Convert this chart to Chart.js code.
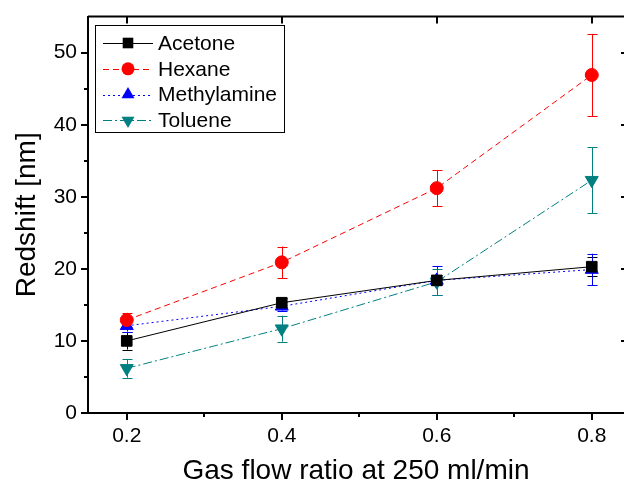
<!DOCTYPE html>
<html>
<head>
<meta charset="utf-8">
<script src="https://cdn.jsdelivr.net/npm/chart.js@4.4.0/dist/chart.umd.min.js"></script>
<style>
  html, body { margin: 0; padding: 0; background: #fff; }
  #wrap { width: 624px; height: 488px; }
</style>
</head>
<body>
<div id="wrap"><canvas id="c"></canvas></div>
<script>
// data
const flowRatio = [0.2, 0.4, 0.6, 0.8];
const xTicks = [0.2, 0.4, 0.6, 0.8];
const xMinorTicks = [0.3, 0.5, 0.7];
const yTicks = [0, 10, 20, 30, 40, 50];
const yMinorTicks = [5, 15, 25, 35, 45];

const acetone = [10.0, 15.3, 18.4, 20.3];
const acetoneErr = [1.2, 0.6, 0.7, 1.3];
const hexane = [12.9, 20.9, 31.2, 46.9];
const hexaneErr = [1.0, 2.2, 2.5, 5.7];
const methylamine = [12.1, 14.8, 18.4, 19.9];
const methylamineErr = [0.8, 0.6, 2.0, 2.2];
const toluene = [6.2, 11.7, 18.2, 32.3];
const tolueneErr = [1.3, 1.8, 1.8, 4.6];

const FONT = 'Liberation Sans, Arial, sans-serif';

function series(label, values, errs, color, dash, style, radius, rotation) {
  return {
    label: label,
    data: flowRatio.map((x, i) => ({ x: x, y: values[i] })),
    errors: errs,
    borderColor: color,
    backgroundColor: color,
    borderWidth: 1,
    borderDash: dash,
    pointStyle: style,
    pointRadius: radius,
    pointHoverRadius: radius,
    pointRotation: rotation,
    pointBorderWidth: 1,
    showLine: true,
    tension: 0
  };
}

const datasets = [
  series('Acetone', acetone, acetoneErr, '#000000', [], 'rect', 7.5, 0),
  series('Hexane', hexane, hexaneErr, '#ff0000', [6, 4], 'circle', 6.5, 0),
  series('Methylamine', methylamine, methylamineErr, '#0000ff', [2, 3], 'triangle', 7.5, 0),
  series('Toluene', toluene, tolueneErr, '#008080', [9, 3, 2, 3], 'triangle', 7.5, 180)
];

// error bars, drawn under the markers
const errorBars = {
  id: 'errorBars',
  beforeDatasetsDraw(chart) {
    const ctx = chart.ctx, xs = chart.scales.x, ys = chart.scales.y;
    ctx.save();
    chart.data.datasets.forEach(ds => {
      ctx.strokeStyle = ds.borderColor;
      ctx.lineWidth = 1;
      ctx.setLineDash([]);
      ds.data.forEach((p, i) => {
        const px = Math.round(xs.getPixelForValue(p.x)) + 0.5;
        const top = ys.getPixelForValue(p.y + ds.errors[i]);
        const bot = ys.getPixelForValue(p.y - ds.errors[i]);
        ctx.beginPath();
        ctx.moveTo(px, top); ctx.lineTo(px, bot);
        ctx.moveTo(px - 5, Math.round(top) + 0.5); ctx.lineTo(px + 5, Math.round(top) + 0.5);
        ctx.moveTo(px - 5, Math.round(bot) + 0.5); ctx.lineTo(px + 5, Math.round(bot) + 0.5);
        ctx.stroke();
      });
    });
    ctx.restore();
  }
};

// top frame, minor ticks, mirrored ticks and the legend box
const frame = {
  id: 'frame',
  afterDraw(chart) {
    const ctx = chart.ctx, a = chart.chartArea, xs = chart.scales.x, ys = chart.scales.y;
    ctx.save();
    ctx.strokeStyle = '#000';
    ctx.lineWidth = 2;
    ctx.beginPath();
    ctx.moveTo(a.left, a.top); ctx.lineTo(a.right, a.top);
    xMinorTicks.forEach(v => {
      const px = Math.round(xs.getPixelForValue(v));
      ctx.moveTo(px, a.bottom); ctx.lineTo(px, a.bottom + 4);
    });
    yMinorTicks.forEach(v => {
      const py = Math.round(ys.getPixelForValue(v));
      ctx.moveTo(a.left, py); ctx.lineTo(a.left - 4, py);
    });
    xTicks.forEach(v => {
      const px = Math.round(xs.getPixelForValue(v));
      ctx.moveTo(px, a.top); ctx.lineTo(px, a.top + 7);
    });
    yTicks.forEach(v => {
      const py = Math.round(ys.getPixelForValue(v));
      ctx.moveTo(a.right, py); ctx.lineTo(a.right - 3, py);
    });
    ctx.stroke();

    // legend
    const bx = 95.5, by = 25.5, bw = 189, bh = 107;
    ctx.lineWidth = 1;
    ctx.strokeRect(bx, by, bw, bh);
    ctx.font = '21px ' + FONT;
    ctx.textBaseline = 'middle';
    ctx.textAlign = 'left';
    chart.data.datasets.forEach((ds, i) => {
      const y = 43 + i * 25.8;
      ctx.strokeStyle = ds.borderColor;
      ctx.fillStyle = ds.borderColor;
      ctx.setLineDash(ds.borderDash);
      ctx.beginPath();
      ctx.moveTo(103, Math.round(y) + 0.5); ctx.lineTo(153, Math.round(y) + 0.5);
      ctx.stroke();
      ctx.setLineDash([]);
      const mx = 128, r = ds.pointRadius;
      ctx.beginPath();
      if (ds.pointStyle === 'rect') {
        const s = r * Math.SQRT1_2;
        ctx.rect(mx - s, y - s, 2 * s, 2 * s);
      } else if (ds.pointStyle === 'circle') {
        ctx.arc(mx, y, r, 0, Math.PI * 2);
      } else {
        const dir = ds.pointRotation === 180 ? -1 : 1;
        ctx.moveTo(mx, y - dir * r);
        ctx.lineTo(mx - r * 0.866, y + dir * r * 0.5);
        ctx.lineTo(mx + r * 0.866, y + dir * r * 0.5);
        ctx.closePath();
      }
      ctx.fill();
      ctx.fillStyle = '#000';
      ctx.fillText(ds.label, 158, y + 1);
    });
    ctx.restore();
  }
};

new Chart(document.getElementById('c'), {
  type: 'scatter',
  data: { datasets: datasets },
  plugins: [errorBars, frame],
  options: {
    responsive: true,
    maintainAspectRatio: false,
    animation: false,
    layout: { autoPadding: false, padding: { left: 0, right: 0, top: 13, bottom: 0 } },
    plugins: { legend: { display: false }, tooltip: { enabled: false } },
    scales: {
      x: {
        type: 'linear',
        min: 0.15,
        max: 0.8416,
        afterBuildTicks: s => { s.ticks = xTicks.map(v => ({ value: v })); },
        afterFit: s => { s.height = 75; },
        grid: { drawOnChartArea: false, color: '#000', lineWidth: 2, tickLength: 7 },
        border: { display: true, color: '#000', width: 2 },
        ticks: { color: '#000', font: { family: FONT, size: 21 }, padding: 4, maxRotation: 0,
                 callback: v => v.toFixed(1) },
        title: { display: true, text: 'Gas flow ratio at 250 ml/min', color: '#000',
                 font: { family: FONT, size: 28 }, padding: { top: 0, bottom: 0 } }
      },
      y: {
        type: 'linear',
        min: 0,
        max: 55,
        afterBuildTicks: s => { s.ticks = yTicks.map(v => ({ value: v })); },
        afterFit: s => { s.width = 88; },
        grid: { drawOnChartArea: false, color: '#000', lineWidth: 2, tickLength: 7 },
        border: { display: true, color: '#000', width: 2 },
        ticks: { color: '#000', font: { family: FONT, size: 21 }, padding: 4 },
        title: { display: true, text: 'Redshift [nm]', color: '#000',
                 font: { family: FONT, size: 28 }, padding: { top: 10, bottom: 0 } }
      }
    }
  }
});
</script>
</body>
</html>
